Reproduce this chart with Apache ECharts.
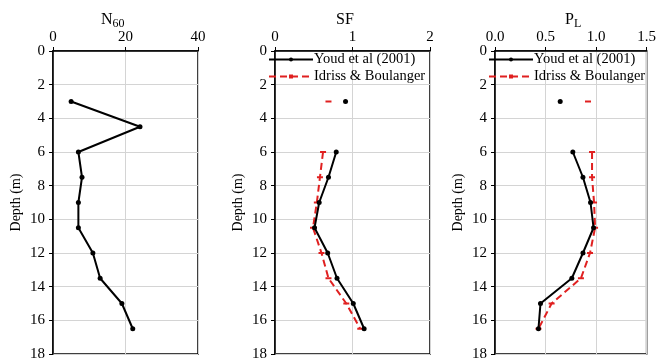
<!DOCTYPE html>
<html><head><meta charset="utf-8">
<script src="https://cdn.jsdelivr.net/npm/echarts@6/dist/echarts.min.js"></script>
<style>html,body{margin:0;padding:0;background:#fff}#c{width:659px;height:362px}</style>
</head><body><div id="c"></div>
<script>
const depthN = [3, 4.5, 6, 7.5, 9, 10.5, 12, 13.5, 15, 16.5];
const n60 = [5, 24, 7, 8, 7, 7, 11, 13, 19, 22];
const depth = [3, 4.5, 6, 7.5, 9, 10.5, 12, 13.5, 15, 16.5];
const sfYoud = [0.91, null, 0.79, 0.69, 0.57, 0.51, 0.68, 0.80, 1.01, 1.15];
const sfIdriss = [0.69, null, 0.62, 0.58, 0.54, 0.49, 0.60, 0.69, 0.92, 1.10];
const plYoud = [0.645, null, 0.77, 0.87, 0.945, 0.975, 0.87, 0.76, 0.45, 0.43];
const plIdriss = [0.92, null, 0.96, 0.96, 0.98, 0.99, 0.94, 0.85, 0.56, 0.43];
const depthTicks = [0, 18, 2];
const xRanges = [[0, 40, 20], [0, 2, 1], [0, 1.5, 0.5]];
const legendNames = ['Youd et al (2001)', 'Idriss & Boulanger'];

const FONT = 'Liberation Serif';
const pairX = (vals, ds) => vals.map((v, i) => [v, ds[i]]);

const grids = [
  {left: 53, top: 51, width: 145, height: 303},
  {left: 275, top: 51, width: 155, height: 303},
  {left: 495, top: 51, width: 155, height: 303}
];
grids.forEach(g => { g.show = true; g.borderColor = '#000'; g.borderWidth = 1.5; g.backgroundColor = 'transparent'; });
const xAxes = xRanges.map((r, i) => ({
  type: 'value', gridIndex: i, position: 'top', min: r[0], max: r[1], interval: r[2],
  axisLine: {show: true, lineStyle: {color: '#000', width: 1.5}},
  axisTick: {show: true, length: 4, lineStyle: {color: '#000'}},
  axisLabel: {fontFamily: FONT, fontSize: 15, color: '#000', margin: 6,
    formatter: i === 2 ? (v => v.toFixed(1)) : (v => String(v))},
  splitLine: {show: true, lineStyle: {color: '#d4d4d4'}}
}));
const yAxes = [0, 1, 2].map(i => ({
  type: 'value', gridIndex: i, inverse: true, min: depthTicks[0], max: depthTicks[1], interval: depthTicks[2],
  name: 'Depth (m)', nameLocation: 'middle', nameGap: 30,
  nameTextStyle: {fontFamily: FONT, fontSize: 14, color: '#000'},
  axisLine: {show: true, lineStyle: {color: '#000', width: 1.5}},
  axisTick: {show: true, length: 4, lineStyle: {color: '#000'}},
  axisLabel: {fontFamily: FONT, fontSize: 15, color: '#000', margin: 8},
  splitLine: {show: true, lineStyle: {color: '#d4d4d4'}}
}));

const blackLine = (name, data, xi) => ({
  name, type: 'line', xAxisIndex: xi, yAxisIndex: xi, data, connectNulls: false,
  symbol: 'circle', symbolSize: 5, showSymbol: true,
  lineStyle: {color: '#000', width: 2}, itemStyle: {color: '#000'}, z: 3
});
const redLine = (name, data, xi) => ({
  name, type: 'line', xAxisIndex: xi, yAxisIndex: xi, data, connectNulls: false,
  symbol: 'rect', symbolSize: [6, 2], showSymbol: true,
  lineStyle: {color: '#e02020', width: 2, type: [7, 4]}, itemStyle: {color: '#e02020'}, z: 2
});

const titleRich = {
  a: {fontFamily: FONT, fontSize: 16, color: '#000', fontWeight: 'normal'},
  s: {fontFamily: FONT, fontSize: 12, color: '#000', fontWeight: 'normal', verticalAlign: 'bottom', padding: [8, 0, 0, 0]}
};
const legendCommon = {
  orient: 'vertical', itemWidth: 44, itemHeight: 5, itemGap: 2,
  data: legendNames,
  textStyle: {fontFamily: FONT, fontSize: 14.5, color: '#000', padding: [0, 0, 0, -4]}
};

const option = {
  animation: false,
  backgroundColor: '#fff',
  title: [
    {text: '{a|N}{s|60}', left: 96, top: 5, textStyle: {rich: titleRich}},
    {text: 'SF', left: 331, top: 7, textStyle: {fontFamily: FONT, fontSize: 16, fontWeight: 'normal', color: '#000'}},
    {text: '{a|P}{s|L}', left: 560, top: 5, textStyle: {rich: titleRich}}
  ],
  legend: [
    Object.assign({left: 263, top: 47}, legendCommon),
    Object.assign({left: 483, top: 47}, legendCommon)
  ],
  grid: grids,
  xAxis: xAxes,
  yAxis: yAxes,
  series: [
    {type: 'line', xAxisIndex: 0, yAxisIndex: 0, data: pairX(n60, depthN), symbol: 'circle', symbolSize: 5,
     lineStyle: {color: '#000', width: 2}, itemStyle: {color: '#000'}},
    blackLine(legendNames[0], pairX(sfYoud, depth), 1),
    redLine(legendNames[1], pairX(sfIdriss, depth), 1),
    blackLine(legendNames[0], pairX(plYoud, depth), 2),
    redLine(legendNames[1], pairX(plIdriss, depth), 2)
  ]
};
echarts.init(document.getElementById('c')).setOption(option);
</script></body></html>
